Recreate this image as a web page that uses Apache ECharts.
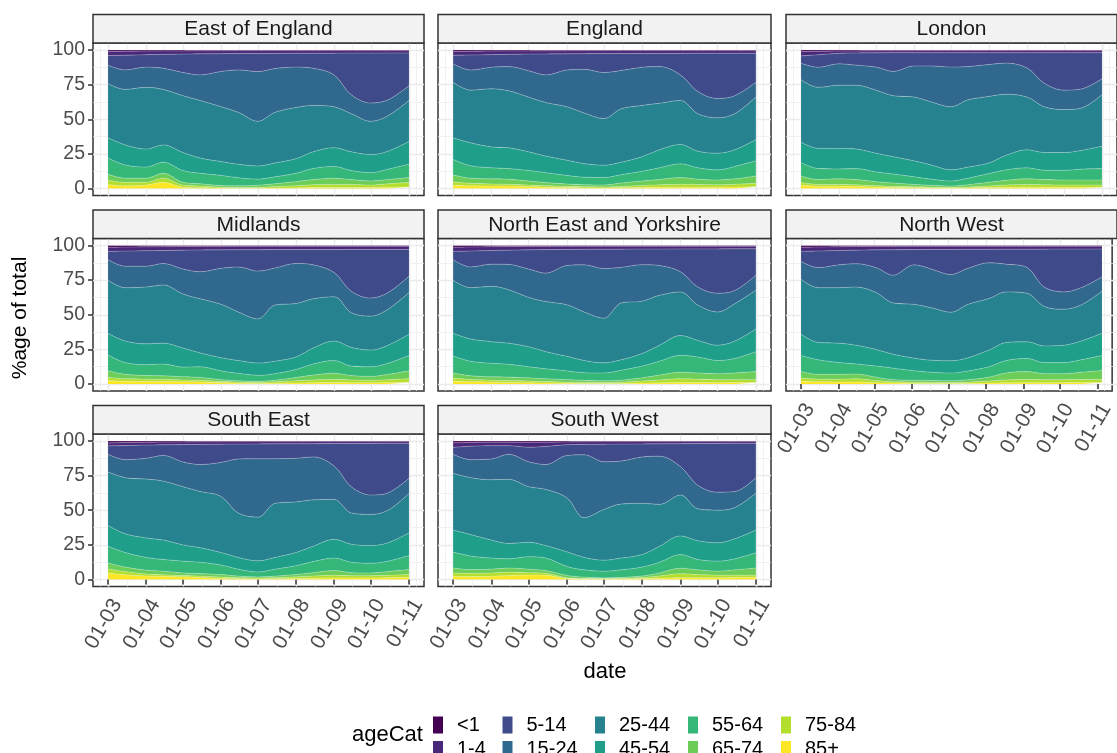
<!DOCTYPE html>
<html>
<head>
<meta charset="utf-8">
<script src="https://cdn.jsdelivr.net/npm/echarts@6/dist/echarts.min.js"></script>
<style>
  html, body { margin: 0; padding: 0; background: #ffffff; }
  #chart { width: 1117px; height: 753px; }
</style>
</head>
<body>
<div id="chart"></div>
<script>
// Age bands, youngest first; the stack is drawn oldest at the bottom.
const ageCats = ['<1', '1-4', '5-14', '15-24', '25-44', '45-54', '55-64', '65-74', '75-84', '85+'];
const ageColours = ['#440154', '#482878', '#3E4A89', '#31688E', '#26828E',
                    '#1F9E89', '#35B779', '#6DCD59', '#B4DE2C', '#FDE725'];

// Sample dates (half-monthly)
const dates = ['2020-03-01', '2020-03-15', '2020-04-01', '2020-04-15', '2020-05-01', '2020-05-15',
               '2020-06-01', '2020-06-15', '2020-07-01', '2020-07-15', '2020-08-01', '2020-08-15',
               '2020-09-01', '2020-09-15', '2020-10-01', '2020-10-15', '2020-11-01'];

const regionNames = ['East of England', 'England', 'London', 'Midlands', 'North East and Yorkshire',
                     'North West', 'South East', 'South West'];

// Percentage of total per age band (rows follow ageCats), one column per date
const eastOfEngland = [
  [1.2,1.0,0.8,0.7,0.7,0.6,0.6,0.5,0.5,0.5,0.5,0.5,0.5,0.5,0.5,0.5,0.5],
  [2.8,2.8,2.6,2.5,2.3,2.2,2.1,2.1,2.0,2.0,1.9,1.9,1.9,1.8,1.8,1.7,1.7],
  [7.0,10.6,9.0,10.0,13.3,15.2,12.8,11.8,13.1,10.9,10.0,10.8,15.6,30.0,36.0,33.8,23.6],
  [13.4,14.1,14.6,15.3,16.7,18.5,25.5,30.6,35.9,31.6,29.1,26.8,23.0,13.7,13.2,11.5,10.7],
  [39.0,40.0,44.5,40.0,41.0,41.5,39.5,37.5,32.2,36.5,37.0,33.5,29.5,27.5,24.0,25.5,29.5],
  [14.6,14.5,13.0,12.5,13.0,11.0,10.0,9.7,9.5,10.0,10.5,12.0,13.5,13.5,13.0,13.0,16.5],
  [11.7,9.5,8.0,8.0,8.5,7.5,7.3,5.8,4.4,5.0,6.0,8.0,8.5,6.5,6.0,7.5,9.5],
  [4.3,3.0,3.0,3.5,2.0,1.7,1.2,1.2,1.6,2.0,3.0,3.7,4.5,3.5,3.0,3.0,3.7],
  [3.0,2.5,2.0,3.0,1.5,1.2,0.6,0.5,0.5,1.1,1.5,2.1,2.2,2.2,1.7,2.5,3.1],
  [3.0,2.0,2.5,4.5,1.0,0.6,0.4,0.3,0.3,0.4,0.5,0.7,0.8,0.8,0.8,1.0,1.2]
];
const england = [
  [1.2,1.0,0.8,0.7,0.7,0.6,0.6,0.5,0.5,0.5,0.5,0.5,0.5,0.5,0.5,0.5,0.5],
  [2.6,2.6,2.6,2.5,2.3,2.3,2.2,2.2,2.1,2.1,2.0,2.0,2.0,1.9,1.9,1.9,1.9],
  [6.2,10.9,9.1,8.8,12.0,15.1,11.7,11.3,13.7,12.2,10.0,9.5,15.5,27.6,32.6,30.6,21.0],
  [13.4,14.5,15.5,17.5,19.0,20.0,26.5,31.5,33.2,27.7,27.5,26.5,18.5,16.0,14.0,13.0,10.6],
  [40.0,38.0,42.0,41.1,39.5,38.6,38.5,36.5,33.7,38.5,37.0,33.5,31.7,27.0,25.5,26.0,30.6],
  [15.6,16.5,15.0,15.0,13.5,11.9,11.0,9.8,8.8,9.0,10.5,13.0,13.9,12.0,12.0,12.0,15.4],
  [11.2,9.0,8.0,7.7,7.5,7.2,6.2,5.4,5.4,6.0,7.0,8.5,10.0,8.2,7.3,9.0,10.9],
  [5.0,3.7,3.7,3.6,3.0,2.3,1.7,1.5,1.4,2.5,3.3,3.8,4.8,3.8,3.4,3.9,5.3],
  [2.4,1.8,1.5,1.3,1.2,1.0,0.9,0.8,0.7,0.9,1.4,1.8,2.1,2.0,1.8,2.0,2.4],
  [2.4,2.0,1.8,1.8,1.3,1.0,0.7,0.5,0.5,0.6,0.8,0.9,1.0,1.0,1.0,1.1,1.4]
];
const london = [
  [1.2,1.0,0.8,0.7,0.6,0.6,0.6,0.5,0.5,0.5,0.5,0.5,0.5,0.5,0.5,0.5,0.5],
  [3.1,2.5,1.6,1.5,1.5,1.4,1.4,1.5,1.5,1.5,1.5,1.5,1.5,1.5,1.5,1.5,1.5],
  [5.3,9.0,7.6,8.8,10.3,13.5,9.5,9.5,10.4,10.0,8.5,7.5,11.0,22.0,27.0,26.2,18.8],
  [11.9,14.5,15.5,14.5,16.6,17.5,22.5,26.0,28.6,24.0,23.0,22.5,21.0,17.0,14.0,13.8,11.5],
  [45.0,44.0,45.5,46.0,45.5,44.0,46.0,45.5,45.5,48.5,48.0,44.0,38.0,33.0,31.0,30.5,37.1],
  [14.8,14.5,14.8,14.1,13.5,12.5,11.5,10.2,8.0,8.0,7.7,10.5,13.0,12.8,12.8,13.5,16.2],
  [9.6,8.0,7.2,7.9,7.0,6.5,5.5,4.4,3.6,4.7,6.3,7.5,8.0,6.7,7.0,7.8,8.2],
  [4.8,3.5,4.0,3.7,3.0,2.4,1.7,1.4,1.0,1.6,2.6,3.4,4.0,3.7,3.6,3.6,3.6],
  [1.9,1.3,1.4,1.3,0.9,0.8,0.7,0.5,0.5,0.7,1.2,1.7,2.0,1.8,1.7,1.7,1.6],
  [2.4,1.7,1.6,1.5,1.1,0.8,0.6,0.5,0.4,0.5,0.7,0.9,1.0,1.0,0.9,0.9,1.0]
];
const midlands = [
  [1.4,1.2,1.0,0.9,0.8,0.7,0.7,0.6,0.6,0.6,0.6,0.6,0.6,0.6,0.6,0.6,0.6],
  [2.9,2.9,2.8,2.7,2.6,2.6,2.5,2.5,2.5,2.4,2.4,2.4,2.4,2.3,2.3,2.3,2.3],
  [6.0,10.9,11.2,9.4,13.6,15.7,13.3,12.4,15.4,13.3,10.0,11.0,16.5,30.1,35.1,31.1,19.3],
  [14.8,15.5,15.0,15.5,18.0,19.5,26.0,32.5,34.5,26.7,28.9,24.5,17.5,15.5,13.0,12.0,11.8],
  [38.3,38.5,41.0,42.0,39.0,39.0,38.5,35.0,31.8,40.5,38.6,35.5,32.0,25.0,24.5,26.0,30.1],
  [15.6,15.5,15.0,15.1,13.8,10.0,9.5,9.2,8.9,9.0,9.0,11.5,14.0,13.5,12.0,13.0,15.3],
  [11.4,8.5,7.8,8.4,6.9,7.7,6.3,5.4,4.3,4.7,5.8,8.0,9.2,6.8,7.0,8.0,11.0],
  [4.8,3.2,2.7,2.6,2.3,2.1,1.4,1.0,0.7,1.2,2.3,3.5,4.5,3.2,2.7,3.8,5.8],
  [2.4,1.8,1.7,1.6,1.4,1.2,0.9,0.8,0.8,1.0,1.6,2.0,2.2,2.0,1.8,2.0,2.4],
  [2.4,2.0,1.8,1.8,1.6,1.5,0.9,0.6,0.5,0.6,0.8,1.0,1.1,1.0,1.0,1.2,1.4]
];
const northEastYorkshire = [
  [1.3,1.1,0.9,0.8,0.7,0.7,0.6,0.6,0.6,0.6,0.6,0.6,0.6,0.6,0.6,0.6,0.6],
  [3.0,2.9,2.7,2.6,2.5,2.3,2.3,2.2,2.1,2.1,2.0,2.0,1.9,1.9,1.9,1.8,1.8],
  [6.0,11.5,9.9,10.3,13.8,17.0,11.6,11.2,14.0,13.1,11.3,11.9,16.5,27.5,32.0,30.1,19.1],
  [14.8,15.0,16.0,18.3,20.5,20.5,28.3,34.0,35.8,25.7,26.3,21.5,14.5,13.0,13.5,9.5,10.8],
  [38.3,37.0,39.9,38.5,35.5,36.1,37.2,35.0,32.2,41.0,37.8,36.0,31.5,25.5,24.0,27.0,28.0],
  [16.3,16.0,15.6,15.2,14.5,12.4,10.5,8.8,7.3,7.5,9.0,11.5,14.2,12.0,11.0,12.5,16.3],
  [12.4,10.5,9.8,9.3,8.0,7.2,6.3,5.5,5.6,7.2,8.5,10.0,12.3,11.5,9.5,10.5,14.4],
  [3.6,2.7,2.4,2.5,2.3,2.0,1.8,1.5,1.2,1.4,2.3,3.5,4.7,4.5,4.3,4.8,5.8],
  [2.3,1.7,1.4,1.3,1.2,1.0,0.8,0.7,0.7,0.9,1.5,2.1,2.7,2.4,2.2,2.1,2.0],
  [2.0,1.6,1.4,1.2,1.0,0.8,0.6,0.5,0.5,0.5,0.7,0.9,1.1,1.1,1.0,1.1,1.2]
];
const northWest = [
  [1.3,1.1,0.9,0.8,0.7,0.7,0.6,0.6,0.6,0.6,0.6,0.6,0.6,0.6,0.6,0.6,0.6],
  [3.0,2.9,2.7,2.6,2.5,2.4,2.4,2.3,2.3,2.2,2.2,2.1,2.1,2.1,2.0,2.0,2.0],
  [7.2,12.0,10.4,9.8,12.8,18.4,11.0,14.1,18.1,13.7,9.7,10.8,13.3,27.3,30.9,27.9,20.1],
  [12.9,14.5,16.5,16.8,18.0,20.0,28.5,28.0,27.2,26.0,25.8,20.0,18.5,14.0,12.5,12.5,10.3],
  [39.7,39.5,40.0,42.0,41.0,37.0,38.8,37.8,35.0,38.5,37.2,36.5,35.0,28.5,26.0,26.0,30.4],
  [15.3,12.5,14.0,13.5,12.0,10.0,9.1,8.7,8.8,9.5,12.0,13.0,12.0,12.0,12.5,13.5,16.0],
  [11.5,10.5,8.5,7.3,8.0,8.3,6.8,5.9,5.6,6.3,7.5,9.0,9.5,8.0,8.0,9.0,10.8],
  [4.8,3.5,3.5,3.4,2.5,1.6,1.5,1.4,1.3,1.8,2.8,5.0,5.7,4.3,4.3,5.2,6.5],
  [2.1,1.9,2.0,2.3,1.5,0.9,0.8,0.7,0.6,0.9,1.5,2.1,2.3,2.2,2.2,2.2,2.1],
  [2.2,1.6,1.5,1.5,1.0,0.7,0.5,0.5,0.5,0.5,0.7,0.9,1.0,1.0,1.0,1.1,1.2]
];
const southEast = [
  [1.5,1.2,1.0,0.8,0.7,0.6,0.6,0.5,0.5,0.5,0.5,0.5,0.5,0.5,0.5,0.5,0.5],
  [2.1,2.1,2.0,2.0,1.9,1.9,1.8,1.8,1.7,1.6,1.5,1.5,1.4,1.4,1.3,1.2,1.2],
  [6.0,10.2,9.5,7.7,12.6,14.5,13.1,10.7,10.6,10.7,10.5,9.5,16.1,31.1,37.2,35.8,25.3],
  [12.8,13.0,15.0,18.5,17.8,19.5,24.5,39.0,42.2,32.2,31.5,31.0,24.2,19.0,14.0,12.5,11.0],
  [38.6,40.5,42.5,42.5,42.0,40.5,40.5,32.0,31.5,39.0,36.5,33.5,28.8,22.5,22.5,23.5,28.3],
  [14.9,13.5,14.0,14.0,11.7,10.5,9.0,8.5,8.0,8.5,9.5,11.0,13.5,13.0,12.7,13.2,16.4],
  [12.1,10.5,9.2,8.5,8.5,8.2,6.9,5.0,3.6,5.0,6.4,8.0,9.0,7.5,7.0,7.5,10.1],
  [4.3,3.2,2.8,2.5,1.9,1.8,1.8,1.1,0.7,1.1,1.6,2.4,3.4,2.2,2.0,2.7,3.6],
  [2.9,2.3,1.4,1.1,0.9,1.0,1.0,0.8,0.7,0.8,1.2,1.6,1.9,1.6,1.6,1.7,1.9],
  [4.8,3.5,2.6,2.4,2.0,1.5,0.8,0.6,0.5,0.6,0.8,1.0,1.2,1.2,1.2,1.4,1.7]
];
const southWest = [
  [1.4,1.1,0.9,0.9,1.0,0.9,0.7,0.6,0.5,0.5,0.5,0.5,0.5,0.5,0.5,0.5,0.5],
  [3.2,2.7,2.5,2.5,3.5,3.1,2.0,1.9,1.9,1.8,1.7,1.6,1.5,1.4,1.3,1.2,1.2],
  [5.0,9.7,9.6,6.2,10.5,13.0,7.8,7.5,12.6,12.2,9.3,8.9,16.5,30.1,35.2,34.8,24.8],
  [13.8,13.0,15.0,18.1,18.0,18.0,30.5,45.4,34.5,31.0,33.5,34.8,20.5,17.0,13.0,11.5,11.3],
  [40.9,41.0,43.5,46.3,40.0,40.5,39.0,28.6,36.5,39.0,37.0,30.2,29.5,23.0,23.5,22.6,26.5],
  [15.9,15.5,13.0,11.0,10.5,9.0,10.5,9.0,8.0,8.5,9.0,11.5,13.5,13.5,13.2,14.4,16.4],
  [11.4,9.8,8.0,6.7,9.0,9.0,6.5,5.2,4.8,5.4,6.4,7.7,9.8,7.5,7.3,8.0,10.9],
  [3.6,2.7,2.7,3.0,2.5,2.0,1.7,1.0,0.5,0.7,1.1,2.2,4.0,3.4,2.8,3.8,5.3],
  [2.4,2.3,2.4,2.4,1.7,1.3,0.5,0.3,0.2,0.4,0.8,1.6,2.9,2.3,1.9,1.7,1.4],
  [2.4,2.2,2.4,2.9,3.3,3.2,0.8,0.5,0.5,0.5,0.7,1.0,1.3,1.3,1.3,1.5,1.7]
];

const regionShares = [eastOfEngland, england, london, midlands, northEastYorkshire,
                      northWest, southEast, southWest];

// Facet geometry (pixels)
const colLeft = [93, 438, 786];
const colWidth = [331, 333, 331];
const stripTop = [14.5, 210, 405.5];
const stripH = 28.5;
const panelH = 152.5;
const FONT = '"Liberation Sans", Arial, Helvetica, sans-serif';

// x range padded by 5% on each side of the data span
const DAY = 86400000;
const xStart = +new Date(2020, 2, 1);
const xEnd = +new Date(2020, 10, 1);
const xPad = (xEnd - xStart) * 0.05;
const xMin = xStart - xPad;
const xMax = xEnd + xPad;
// tick positions: first day of each month
const monthStarts = [2, 3, 4, 5, 6, 7, 8, 9, 10].map(m => +new Date(2020, m, 1));

const gridColour = '#ebebeb';
const grids = [], xAxes = [], yAxes = [], series = [], graphics = [];

regionNames.forEach((name, i) => {
  const row = Math.floor(i / 3), col = i % 3;
  const left = colLeft[col], width = colWidth[col];
  const top = stripTop[row] + stripH;
  const showX = row === 2 || (row === 1 && col === 2);
  const showY = col === 0;

  // panel frame with vertical grid lines, spans the padded range
  grids.push({ left: left, top: top, width: width, height: panelH, show: true,
               backgroundColor: '#ffffff', borderColor: '#333333', borderWidth: 1.5,
               containLabel: false });
  // data area for 0..100
  grids.push({ left: left, top: top + panelH * 5 / 110, width: width, height: panelH * 100 / 110,
               show: false, containLabel: false });

  xAxes.push({
    type: 'time', gridIndex: 2 * i, min: xMin, max: xMax,
    minInterval: 28 * DAY, maxInterval: 31 * DAY,
    axisLine: { show: false },
    axisTick: { show: showX, length: 5, customValues: monthStarts,
                lineStyle: { color: '#333333', width: 1.5 } },
    axisLabel: { show: showX, customValues: monthStarts, formatter: '{dd}-{MM}', rotate: 60, margin: 9,
                 align: 'right', verticalAlign: 'top',
                 fontSize: 21, color: '#4d4d4d', fontFamily: FONT,
                 showMinLabel: false, showMaxLabel: false, hideOverlap: false },
    splitLine: { show: true, lineStyle: { color: gridColour, width: 1.4 } },
    minorTick: { show: false, splitNumber: 2 },
    minorSplitLine: { show: true, lineStyle: { color: gridColour, width: 0.7 } }
  });
  xAxes.push({ type: 'time', gridIndex: 2 * i + 1, min: xMin, max: xMax, show: false });

  yAxes.push({ type: 'value', gridIndex: 2 * i, min: -5, max: 105, show: false });
  yAxes.push({
    type: 'value', gridIndex: 2 * i + 1, min: 0, max: 100, interval: 25,
    axisLine: { show: false },
    axisTick: { show: showY, length: 5, lineStyle: { color: '#333333', width: 1.5 } },
    axisLabel: { show: showY, margin: 8, fontSize: 19.5, color: '#4d4d4d', fontFamily: FONT },
    splitLine: { show: true, lineStyle: { color: gridColour, width: 1.4 } },
    minorTick: { show: false, splitNumber: 2 },
    minorSplitLine: { show: true, lineStyle: { color: gridColour, width: 0.7 } }
  });

  // stacked areas, oldest band first so it sits at the bottom
  const shares = regionShares[i];
  for (let k = ageCats.length - 1; k >= 0; k--) {
    series.push({
      type: 'line', name: ageCats[k],
      xAxisIndex: 2 * i + 1, yAxisIndex: 2 * i + 1,
      stack: 'region' + i,
      data: dates.map((d, j) => [d, shares[k][j]]),
      smooth: 0.35, symbol: 'none', showSymbol: false,
      lineStyle: { width: 0.6, color: 'rgba(255,255,255,0.45)' },
      itemStyle: { color: ageColours[k] },
      areaStyle: { color: ageColours[k], opacity: 1 },
      emphasis: { disabled: true }, silent: true
    });
  }

  // facet strip
  graphics.push({ type: 'rect', silent: true, z: 10,
    shape: { x: left, y: stripTop[row], width: width, height: stripH },
    style: { fill: '#f2f2f2', stroke: '#333333', lineWidth: 1.5 } });
  graphics.push({ type: 'text', silent: true, z: 11,
    x: left + width / 2, y: stripTop[row] + stripH / 2 + 0.5,
    style: { text: name, fill: '#1a1a1a', font: '21px ' + FONT, align: 'center', verticalAlign: 'middle' } });
});

// axis titles and legend title
graphics.push({ type: 'text', silent: true, x: 20, y: 318, rotation: Math.PI / 2,
  style: { text: '%age of total', fill: '#000000', font: '21px ' + FONT, align: 'center', verticalAlign: 'middle' } });
graphics.push({ type: 'text', silent: true, x: 605, y: 672,
  style: { text: 'date', fill: '#000000', font: '22px ' + FONT, align: 'center', verticalAlign: 'middle' } });
graphics.push({ type: 'text', silent: true, x: 352, y: 735,
  style: { text: 'ageCat', fill: '#000000', font: '22px ' + FONT, align: 'left', verticalAlign: 'middle' } });

// legend: five columns of two keys
const legendColumns = [[0, 1], [2, 3], [4, 5], [6, 7], [8, 9]];
const legendLeft = [433, 502.5, 595, 688, 781];
const legends = legendColumns.map((c, n) => ({
  orient: 'vertical', left: legendLeft[n], top: 715, height: 60, width: 90,
  itemWidth: 10, itemHeight: 17, itemGap: 4.5, icon: 'rect', padding: 0,
  selectedMode: false,
  data: c.map(k => ageCats[k]),
  textStyle: { fontSize: 20, color: '#000000', fontFamily: FONT, lineHeight: 17, padding: [0, 0, 0, 9] }
}));

const chart = echarts.init(document.getElementById('chart'), null, { renderer: 'canvas' });
chart.setOption({
  animation: false,
  backgroundColor: '#ffffff',
  textStyle: { fontFamily: FONT },
  grid: grids,
  xAxis: xAxes,
  yAxis: yAxes,
  legend: legends,
  series: series,
  graphic: graphics
});
</script>
</body>
</html>
